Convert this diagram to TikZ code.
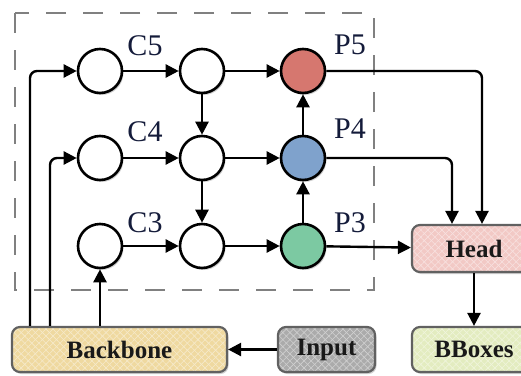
\documentclass[tikz,border=0pt]{standalone}
\usepackage{fontspec}
\setmainfont{Liberation Serif}
\usetikzlibrary{arrows.meta,shadows,patterns.meta}
\definecolor{cRed}{HTML}{D6776F}
\definecolor{cBlue}{HTML}{7FA2CC}
\definecolor{cGreen}{HTML}{7CC9A2}
\definecolor{cTan}{HTML}{EFD9A0}
\definecolor{cGray}{HTML}{ABABAB}
\definecolor{cPink}{HTML}{F2C9C5}
\definecolor{cLime}{HTML}{E3ECC0}
\definecolor{cLabel}{HTML}{141B3A}
\tikzset{
  circ/.style={circle, draw=black, line width=2.6pt, minimum size=44pt, inner sep=0pt, fill=white,
    drop shadow={shadow xshift=1.5pt, shadow yshift=-2pt, opacity=0.18, fill=black}},
  lab/.style={font=\fontsize{30}{30}\selectfont, text=cLabel, inner sep=0pt},
  box/.style={rounded corners=8pt, line width=2.2pt, minimum height=45pt, inner sep=0pt,
    font=\bfseries\fontsize{25}{25}\selectfont, text=black!90, fill=#1,
    drop shadow={shadow xshift=1.5pt, shadow yshift=-2pt, opacity=0.18, fill=black},
    postaction={pattern={Lines[angle=45,distance=5pt,line width=0.6pt]}, pattern color=#1!55!white},
    postaction={pattern={Lines[angle=-45,distance=5pt,line width=0.6pt]}, pattern color=#1!55!white},
    postaction={draw=black!62, line width=2.2pt}},
  arr/.style={line width=2.4pt, -{Triangle[length=13pt,width=13pt]}},
}
\begin{document}
\begin{tikzpicture}[x=1pt,y=-1pt]
\useasboundingbox (0,0) rectangle (521,375);
\fill[white] (0,0) rectangle (521,375);
\draw[gray, line width=1.2pt, dash pattern=on 20pt off 17pt] (15,13) rectangle (374,290);
% circles
\node[circ] (c51) at (100,71) {};
\node[circ] (c52) at (202,71) {};
\node[circ, fill=cRed] (p5) at (303,71) {};
\node[circ] (c41) at (100,158) {};
\node[circ] (c42) at (202,158) {};
\node[circ, fill=cBlue] (p4) at (303,158) {};
\node[circ] (c31) at (100,246) {};
\node[circ] (c32) at (202,246) {};
\node[circ, fill=cGreen] (p3) at (303,246) {};
% labels
\node[lab] (l5) at (145,46) {C5};
\node[lab] (l4) at (145,132) {C4};
\node[lab] (l3) at (145,223) {C3};
\node[lab] (lp5) at (350,45) {P5};
\node[lab] (lp4) at (350,129) {P4};
\node[lab] (lp3) at (350,223) {P3};
% boxes
\node[box=cTan, minimum width=215pt] (bb) at (119.5,349.5) {Backbone};
\node[box=cGray, minimum width=97pt] (in) at (326.5,349.5) {Input};
\node[box=cPink, minimum width=124pt, minimum height=47pt] (hd) at (474,248.5) {Head};
\node[box=cLime, minimum width=124pt] (bx) at (474,349.5) {BBoxes};
% helper coordinates
\coordinate (k1) at (30,0);
\coordinate (k2) at (50,0);
\coordinate (k3) at (482,0);
\coordinate (k4) at (452,0);
% connectors
\draw[arr, rounded corners=7pt] (bb.north -| k1) |- (c51);
\draw[arr, rounded corners=7pt] (bb.north -| k2) |- (c41);
\draw[arr] (bb.north -| c31) -- (c31);
\draw[arr] (c51) -- (c52);
\draw[arr] (c41) -- (c42);
\draw[arr] (c31) -- (c32);
\draw[arr] (c52) -- (c42);
\draw[arr] (c42) -- (c32);
\draw[arr] (c52) -- (p5);
\draw[arr] (c42) -- (p4);
\draw[arr] (c32) -- (p3);
\draw[arr] (p3) -- (p4);
\draw[arr] (p4) -- (p5);
\draw[arr] (p3) -- (hd);
\draw[arr, rounded corners=7pt] (p5) -| (hd.north -| k3);
\draw[arr, rounded corners=7pt] (p4.east) -| (hd.north -| k4);
\draw[arr] (hd) -- (bx);
\draw[arr] (in) -- (bb);
\end{tikzpicture}
\end{document}
